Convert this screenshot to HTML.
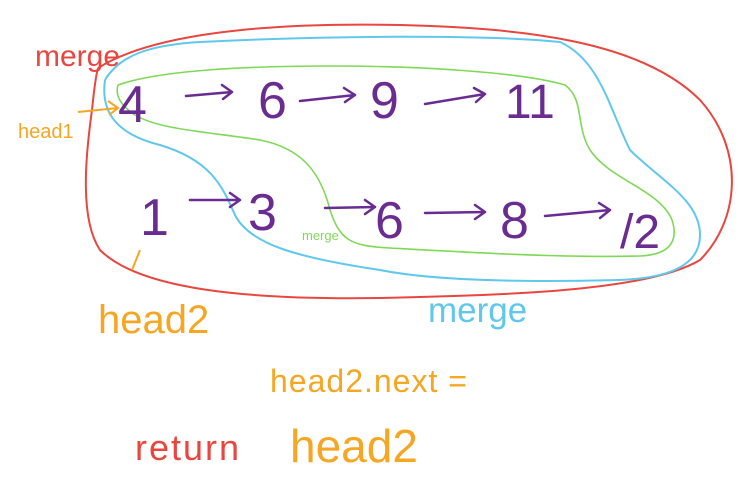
<!DOCTYPE html>
<html><head><meta charset="utf-8"><style>
html,body{margin:0;padding:0;background:#fff;}
svg{display:block}
text{font-family:"Liberation Sans",sans-serif;}
</style></head><body>
<svg width="743" height="479" viewBox="0 0 743 479" xmlns="http://www.w3.org/2000/svg">
<!-- red outline -->
<path d="M98,68 C150,35 260,22 400,25 C520,28 640,40 700,100 C745,150 740,220 700,260 C650,290 520,295 380,298 C250,300 140,290 100,250 C80,220 85,160 92,110 C94,90 96,75 98,68" fill="none" stroke="#e8463f" stroke-width="2"/>
<!-- blue outline -->
<path d="M105,80 C120,55 150,45 200,42 C320,36 480,34 560,42 C600,60 610,110 630,150 C660,180 700,200 700,235 C700,265 670,278 620,280 C540,282 440,282 380,270 C300,258 250,245 235,215 C222,185 210,160 160,145 C120,135 100,115 105,80" fill="none" stroke="#5fc8ec" stroke-width="2"/>
<!-- green outline -->
<path d="M118,85 C160,70 250,66 330,66 C420,66 520,72 565,85 C585,100 575,125 590,150 C610,180 660,190 672,220 C680,245 665,255 640,256 C560,258 460,252 390,248 C350,246 340,240 330,210 C320,170 300,148 260,140 C210,132 160,130 135,115 C120,105 115,95 118,85" fill="none" stroke="#7ed957" stroke-width="1.6"/>
<g fill="#6a2c91" font-size="52">
<text x="118" y="122">4</text>
<text x="258" y="118">6</text>
<text x="370" y="118">9</text>
<text x="505" y="118" font-size="48">11</text>
<text x="140" y="235">1</text>
<text x="248" y="230">3</text>
<text x="375" y="238">6</text>
<text x="500" y="238">8</text>
<text x="620" y="248" font-size="48">/2</text>
</g>
<g fill="none" stroke="#6a2c91" stroke-width="2.5" stroke-linecap="round" stroke-linejoin="round">
<path d="M186,96 L232,92 M222,85 L232,92 L223,99"/>
<path d="M300,101 L355,95 M344,88 L355,95 L345,102"/>
<path d="M425,104 L485,94 M474,88 L485,94 L476,102"/>
<path d="M190,200 L240,200 M230,193 L240,200 L230,207"/>
<path d="M325,208 L375,207 M365,200 L375,207 L365,214"/>
<path d="M425,213 L485,212 M475,205 L485,212 L475,219"/>
<path d="M545,216 L610,210 M599,203 L610,210 L600,218"/>
</g>
<text x="35" y="66" font-size="30" fill="#e8463f">merge</text>
<text x="18" y="138" font-size="20" fill="#f5a623">head1</text>
<path d="M78,112 L118,108 M108,101 L118,108 L109,115" fill="none" stroke="#f5a623" stroke-width="2"/>
<path d="M132,270 L140,250" fill="none" stroke="#f5a623" stroke-width="2"/>
<text x="98" y="333" font-size="40" fill="#f5a623">head2</text>
<text x="428" y="322" font-size="35" fill="#5fc8ec">merge</text>
<text x="302" y="240" font-size="13" fill="#7ed957">merge</text>
<text x="270" y="392" font-size="32" fill="#f5a623" letter-spacing="1">head2.next =</text>
<text x="135" y="460" font-size="36" fill="#e8463f" letter-spacing="2">return</text>
<text x="290" y="462" font-size="46" fill="#f5a623">head2</text>
</svg>
</body></html>
